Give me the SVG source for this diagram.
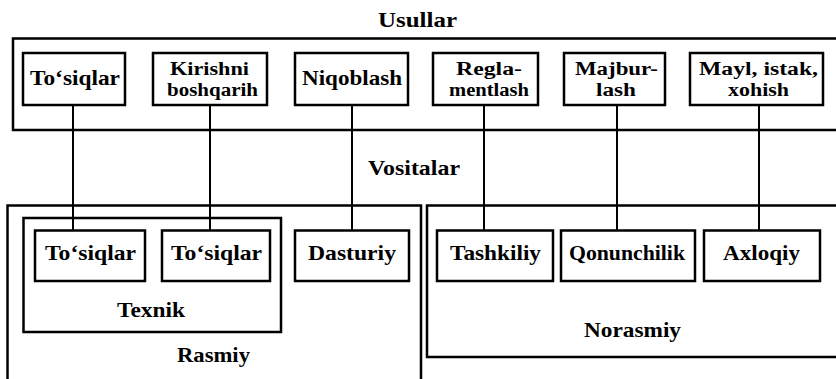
<svg xmlns="http://www.w3.org/2000/svg" width="836" height="379" viewBox="0 0 836 379">
<style>
.box{fill:#fff;stroke:#000;stroke-width:2.5}
.grp{fill:none;stroke:#000;stroke-width:2.5}
.ln{stroke:#000;stroke-width:2;fill:none}
text{font-weight:bold;font-size:21px;fill:#000;text-anchor:middle}
text.two{font-size:18px}
</style>
<rect width="836" height="379" fill="#fff"/>
<g font-family="Liberation Serif, Times New Roman, serif">
<g id="usullar">
<rect class="grp" x="13" y="38.5" width="840" height="91.5"/>
<text x="417.5" y="27" textLength="79" lengthAdjust="spacingAndGlyphs">Usullar</text>
</g>
<g id="rasmiy">
<rect class="grp" x="7.5" y="205.5" width="413.5" height="200"/>
<text x="213.5" y="362" textLength="73" lengthAdjust="spacingAndGlyphs">Rasmiy</text>
</g>
<g id="texnik">
<rect class="grp" x="23.5" y="218" width="257.5" height="114"/>
<text x="151" y="317" textLength="68" lengthAdjust="spacingAndGlyphs">Texnik</text>
</g>
<g id="norasmiy">
<rect class="grp" x="427" y="205.5" width="420" height="151.5"/>
<text x="632.5" y="337" textLength="97" lengthAdjust="spacingAndGlyphs">Norasmiy</text>
</g>
<g id="vositalar-label">
<text x="414" y="175" textLength="92" lengthAdjust="spacingAndGlyphs">Vositalar</text>
</g>
<g id="connectors">
<line class="ln" x1="73" y1="105" x2="73" y2="230.5"/>
<line class="ln" x1="210" y1="105" x2="210" y2="230.5"/>
<line class="ln" x1="352" y1="105" x2="352" y2="230.5"/>
<line class="ln" x1="484" y1="105" x2="484" y2="230.5"/>
<line class="ln" x1="617" y1="105" x2="617" y2="230.5"/>
<line class="ln" x1="759" y1="105" x2="759" y2="230.5"/>
</g>
<g id="u1"><rect class="box" x="23" y="53" width="102" height="52"/><text x="75" y="85" textLength="90" lengthAdjust="spacingAndGlyphs">To‘siqlar</text></g>
<g id="u2"><rect class="box" x="153" y="53" width="114" height="52"/><text class="two" x="209.5" y="74.5" textLength="79" lengthAdjust="spacingAndGlyphs">Kirishni</text><text class="two" x="212.5" y="95.5" textLength="91" lengthAdjust="spacingAndGlyphs">boshqarih</text></g>
<g id="u3"><rect class="box" x="295" y="53" width="113" height="52"/><text x="352" y="85" textLength="100" lengthAdjust="spacingAndGlyphs">Niqoblash</text></g>
<g id="u4"><rect class="box" x="433" y="53" width="105" height="52"/><text class="two" x="489" y="74.5" textLength="66" lengthAdjust="spacingAndGlyphs">Regla-</text><text class="two" x="489" y="95.5" textLength="80" lengthAdjust="spacingAndGlyphs">mentlash</text></g>
<g id="u5"><rect class="box" x="564" y="53" width="101" height="52"/><text class="two" x="616.5" y="74.5" textLength="83" lengthAdjust="spacingAndGlyphs">Majbur-</text><text class="two" x="616" y="95.5" textLength="40" lengthAdjust="spacingAndGlyphs">lash</text></g>
<g id="u6"><rect class="box" x="690" y="53" width="133" height="52"/><text class="two" x="758.5" y="74.5" textLength="119" lengthAdjust="spacingAndGlyphs">Mayl, istak,</text><text class="two" x="758.5" y="95.5" textLength="61" lengthAdjust="spacingAndGlyphs">xohish</text></g>
<g id="v1"><rect class="box" x="35" y="230.5" width="110" height="50.5"/><text x="90.5" y="260" textLength="91" lengthAdjust="spacingAndGlyphs">To‘siqlar</text></g>
<g id="v2"><rect class="box" x="162" y="230.5" width="108" height="50.5"/><text x="216.5" y="260" textLength="91" lengthAdjust="spacingAndGlyphs">To‘siqlar</text></g>
<g id="v3"><rect class="box" x="295" y="230.5" width="114" height="50.5"/><text x="352" y="260" textLength="88" lengthAdjust="spacingAndGlyphs">Dasturiy</text></g>
<g id="v4"><rect class="box" x="437" y="230.5" width="116" height="50.5"/><text x="495.5" y="260" textLength="91" lengthAdjust="spacingAndGlyphs">Tashkiliy</text></g>
<g id="v5"><rect class="box" x="561" y="230.5" width="134" height="50.5"/><text x="627" y="260" textLength="116" lengthAdjust="spacingAndGlyphs">Qonunchilik</text></g>
<g id="v6"><rect class="box" x="704" y="230.5" width="116" height="50.5"/><text x="761.5" y="260" textLength="77" lengthAdjust="spacingAndGlyphs">Axloqiy</text></g>
</g>
</svg>
